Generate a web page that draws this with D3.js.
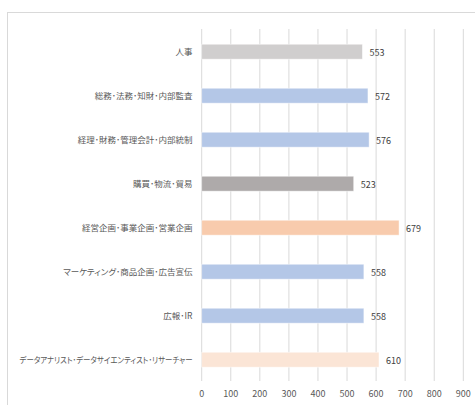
<!DOCTYPE html>
<html><head><meta charset="utf-8">
<script src="https://cdn.jsdelivr.net/npm/d3@7"></script>
<style>body{margin:0;background:#fff} .cat{font-feature-settings:"palt";}</style>
</head><body>
<svg id="c" width="475" height="405"></svg>
<script>
const categories = ["人事","総務･法務･知財･内部監査","経理･財務･管理会計･内部統制","購買･物流･貿易","経営企画･事業企画･営業企画","マーケティング･商品企画･広告宣伝","広報･IR","データアナリスト･データサイエンティスト･リサーチャー"];
const values = [553,572,576,523,679,558,558,610];
const colors = ["#d0cece","#b4c7e7","#b4c7e7","#aeaaaa","#f8cbad","#b4c7e7","#b4c7e7","#fbe5d6"];
const ticks = [0,100,200,300,400,500,600,700,800,900];

const svg = d3.select("#c");
const font = "'Noto Sans CJK JP', sans-serif";
svg.append("rect").attr("x",7.5).attr("y",12.5).attr("width",480).attr("height",420)
  .attr("fill","#fff").attr("stroke","#d9d9d9");

const x = d3.scaleLinear().domain([0,900]).range([201.7,463.3]);
const y = d3.scaleBand().domain(categories).range([29.7,381.7]).paddingInner(0.66).paddingOuter(0.33);

const g = svg.append("g");
g.selectAll("line.grid").data(ticks).enter().append("line")
  .attr("x1",d=>x(d)).attr("x2",d=>x(d)).attr("y1",29).attr("y2",381)
  .attr("stroke","#d9d9d9").attr("stroke-width",1);

g.selectAll("rect.bar").data(values).enter().append("rect")
  .attr("x",x(0)).attr("y",(d,i)=>y(categories[i]))
  .attr("width",d=>x(d)-x(0)).attr("height",y.bandwidth())
  .attr("fill",(d,i)=>colors[i]).attr("stroke","#ffffff").attr("stroke-opacity",0.6).attr("stroke-width",0.8);

g.selectAll("text.val").data(values).enter().append("text")
  .attr("x",d=>x(d)+7).attr("y",(d,i)=>y(categories[i])+y.bandwidth()/2+4)
  .attr("font-family",font).attr("font-size",9).attr("fill","#404040").text(d=>d);

const cats = g.selectAll("text.cat").data(categories).enter().append("text")
  .attr("class","cat")
  .attr("x",192.5).attr("y",d=>y(d)+y.bandwidth()/2+3)
  .attr("text-anchor","end").attr("font-family",font).attr("font-size",8.5).attr("fill","#595959").text(d=>d);
cats.each(function(){
  const w = this.getComputedTextLength();
  if (w > 173) d3.select(this).attr("textLength",173).attr("lengthAdjust","spacingAndGlyphs");
});

g.selectAll("text.tick").data(ticks).enter().append("text")
  .attr("x",d=>x(d)).attr("y",397).attr("text-anchor","middle")
  .attr("font-family",font).attr("font-size",9).attr("fill","#595959").text(d=>d);
</script>
</body></html>
